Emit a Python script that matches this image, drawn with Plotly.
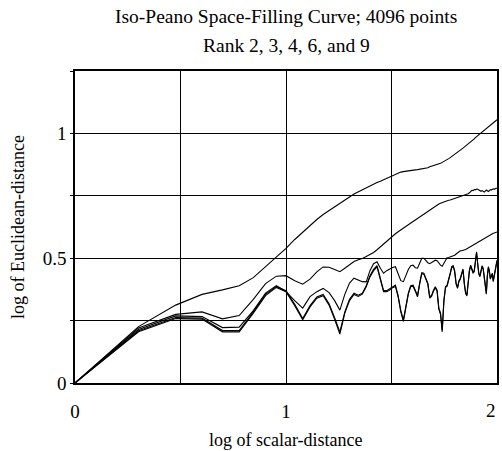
import numpy as np
import plotly.graph_objects as go

# scalar distances along the curve (1..100); plotted as log10
scalar_distance = list(range(1, 101))

rank2 = [0, 0.226, 0.312, 0.355, 0.373, 0.390, 0.422, 0.466, 0.505, 0.539,
         0.575, 0.605, 0.633, 0.655, 0.675, 0.690, 0.705, 0.720, 0.733, 0.745,
         0.757, 0.766, 0.775, 0.783, 0.790, 0.797, 0.803, 0.808, 0.814, 0.819,
         0.824, 0.830, 0.836, 0.841, 0.845, 0.847, 0.849, 0.851, 0.852, 0.853,
         0.854, 0.855, 0.856, 0.857, 0.858, 0.860, 0.862, 0.866, 0.868, 0.871,
         0.873, 0.874, 0.877, 0.880, 0.884, 0.887, 0.892, 0.895, 0.899, 0.903,
         0.907, 0.911, 0.915, 0.919, 0.924, 0.928, 0.933, 0.937, 0.941, 0.945,
         0.949, 0.953, 0.958, 0.962, 0.966, 0.970, 0.974, 0.978, 0.983, 0.987,
         0.990, 0.993, 0.996, 1.000, 1.004, 1.008, 1.012, 1.016, 1.020, 1.024,
         1.028, 1.032, 1.035, 1.038, 1.041, 1.045, 1.048, 1.050, 1.052, 1.055]

rank3 = [0, 0.220, 0.275, 0.285, 0.257, 0.270, 0.335, 0.398, 0.428, 0.430,
         0.410, 0.396, 0.416, 0.445, 0.465, 0.464, 0.455, 0.446, 0.460, 0.475,
         0.487, 0.494, 0.499, 0.507, 0.515, 0.523, 0.534, 0.546, 0.558, 0.570,
         0.580, 0.590, 0.598, 0.606, 0.614, 0.621, 0.627, 0.633, 0.640, 0.647,
         0.653, 0.659, 0.666, 0.672, 0.678, 0.684, 0.690, 0.695, 0.700, 0.706,
         0.710, 0.713, 0.717, 0.720, 0.723, 0.726, 0.729, 0.731, 0.732, 0.733,
         0.735, 0.737, 0.739, 0.741, 0.743, 0.745, 0.747, 0.749, 0.751, 0.753,
         0.755, 0.757, 0.758, 0.762, 0.767, 0.772, 0.771, 0.775, 0.774, 0.777,
         0.776, 0.773, 0.770, 0.768, 0.771, 0.767, 0.765, 0.769, 0.773, 0.770,
         0.767, 0.771, 0.775, 0.773, 0.776, 0.778, 0.776, 0.779, 0.780, 0.780]

rank4 = [0, 0.214, 0.269, 0.266, 0.222, 0.224, 0.290, 0.360, 0.390, 0.366,
         0.330, 0.300, 0.346, 0.366, 0.379, 0.362, 0.330, 0.292, 0.355, 0.400,
         0.420, 0.412, 0.406, 0.405, 0.450, 0.478, 0.486, 0.460, 0.440, 0.450,
         0.458, 0.463, 0.466, 0.440, 0.410, 0.406, 0.435, 0.455, 0.470, 0.472,
         0.462, 0.460, 0.480, 0.500, 0.500, 0.490, 0.482, 0.478, 0.484, 0.490,
         0.492, 0.490, 0.480, 0.472, 0.468, 0.480, 0.495, 0.502, 0.503, 0.505,
         0.506, 0.508, 0.512, 0.517, 0.522, 0.526, 0.530, 0.530, 0.531, 0.533,
         0.535, 0.538, 0.541, 0.545, 0.549, 0.552, 0.554, 0.556, 0.558, 0.561,
         0.564, 0.567, 0.569, 0.572, 0.574, 0.577, 0.580, 0.582, 0.585, 0.588,
         0.590, 0.592, 0.594, 0.596, 0.598, 0.600, 0.601, 0.603, 0.604, 0.605]

rank6 = [0, 0.209, 0.262, 0.260, 0.210, 0.210, 0.285, 0.355, 0.387, 0.370,
         0.315, 0.258, 0.310, 0.345, 0.355, 0.318, 0.262, 0.205, 0.285, 0.335,
         0.360, 0.352, 0.360, 0.390, 0.430, 0.455, 0.470, 0.420, 0.370, 0.370,
         0.377, 0.387, 0.392, 0.350, 0.290, 0.253, 0.300, 0.360, 0.390, 0.392,
         0.372, 0.350, 0.400, 0.442, 0.440, 0.420, 0.400, 0.345, 0.352, 0.372,
         0.386, 0.372, 0.300, 0.280, 0.212, 0.330, 0.386, 0.392, 0.412, 0.440,
         0.466, 0.470, 0.450, 0.400, 0.383, 0.410, 0.420, 0.440, 0.457, 0.400,
         0.362, 0.353, 0.410, 0.452, 0.472, 0.460, 0.445, 0.450, 0.490, 0.526,
         0.480, 0.440, 0.430, 0.450, 0.470, 0.460, 0.420, 0.380, 0.360, 0.430,
         0.466, 0.450, 0.420, 0.430, 0.440, 0.410, 0.430, 0.460, 0.480, 0.492]

rank9 = [0, 0.205, 0.258, 0.256, 0.205, 0.205, 0.280, 0.350, 0.383, 0.366,
         0.310, 0.253, 0.305, 0.340, 0.350, 0.312, 0.255, 0.196, 0.280, 0.330,
         0.355, 0.347, 0.356, 0.386, 0.425, 0.450, 0.465, 0.415, 0.366, 0.366,
         0.372, 0.382, 0.387, 0.345, 0.285, 0.247, 0.296, 0.356, 0.386, 0.388,
         0.368, 0.345, 0.396, 0.438, 0.436, 0.416, 0.396, 0.340, 0.348, 0.368,
         0.382, 0.368, 0.296, 0.274, 0.205, 0.326, 0.382, 0.388, 0.408, 0.436,
         0.462, 0.466, 0.446, 0.396, 0.379, 0.406, 0.416, 0.436, 0.453, 0.396,
         0.358, 0.349, 0.406, 0.448, 0.468, 0.456, 0.441, 0.446, 0.486, 0.522,
         0.476, 0.436, 0.426, 0.446, 0.466, 0.456, 0.416, 0.376, 0.356, 0.426,
         0.462, 0.446, 0.416, 0.426, 0.436, 0.406, 0.426, 0.456, 0.476, 0.488]

series = {"Rank 2": rank2, "Rank 3": rank3, "Rank 4": rank4,
          "Rank 6": rank6, "Rank 9": rank9}

x_tickvals = [0, 0.5, 1, 1.5, 2]
x_ticktext = ["0", "", "1", "", ""]
x_last_tick = 2          # label drawn right-aligned at the plot edge
x_last_label = "2"
y_tickvals = [0, 0.25, 0.5, 0.75, 1, 1.25]
y_ticktext = ["0", "", "0.5", "", "1", ""]

title_line1 = "Iso-Peano Space-Filling Curve; 4096 points"
title_line2 = "Rank 2, 3, 4, 6, and 9"
x_title = "log of scalar-distance"
y_title = "log of Euclidean-distance"

x = np.log10(np.array(scalar_distance, dtype=float))

fig = go.Figure()
for name, vals in series.items():
    fig.add_trace(go.Scatter(x=x, y=vals, mode="lines", name=name,
                             line=dict(color="black", width=1.1),
                             showlegend=False))

FONT = "Liberation Serif, Times New Roman, serif"

fig.update_layout(
    width=502, height=451,
    margin=dict(l=75, r=5, t=71, b=68, autoexpand=False),
    paper_bgcolor="white", plot_bgcolor="white",
    font=dict(family=FONT, size=19, color="black"),
    annotations=[
        dict(text=title_line1, xref="paper", yref="paper", x=0.5, y=1,
             xanchor="center", yanchor="middle", yshift=55, showarrow=False,
             font=dict(size=19.5)),
        dict(text=title_line2, xref="paper", yref="paper", x=0.5, y=1,
             xanchor="center", yanchor="middle", yshift=26, showarrow=False,
             font=dict(size=19.5)),
        dict(text=x_title, xref="paper", yref="paper", x=0.5, y=0,
             xanchor="center", yanchor="middle", yshift=-57, showarrow=False,
             font=dict(size=18)),
        dict(text=y_title, xref="paper", yref="paper", x=0, y=0.5,
             xanchor="center", yanchor="middle", xshift=-57, showarrow=False,
             textangle=-90, font=dict(size=18)),
        dict(text=x_last_label, xref="x", yref="paper", x=x_last_tick, y=0,
             xanchor="right", yanchor="middle", xshift=1, yshift=-27,
             showarrow=False, font=dict(size=19)),
    ],
)

fig.update_xaxes(
    range=[0, 2], tickvals=x_tickvals, ticktext=x_ticktext,
    showgrid=True, gridcolor="black", gridwidth=1,
    showline=True, linecolor="black", linewidth=1.5, mirror=True,
    ticks="", zeroline=False, ticklabelstandoff=10, automargin=False,
    ticklabeloverflow="allow",
)
fig.update_yaxes(
    range=[0, 1.25], tickvals=y_tickvals, ticktext=y_ticktext,
    showgrid=True, gridcolor="black", gridwidth=1,
    showline=True, linecolor="black", linewidth=1.5, mirror=True,
    ticks="outside", ticklen=3, tickcolor="black", zeroline=False,
    automargin=False, ticklabeloverflow="allow",
)

fig.write_html(
    "out.html",
    config={"displayModeBar": False},
    post_script="document.body.style.margin='0';"
                "document.body.style.overflow='hidden';",
)
